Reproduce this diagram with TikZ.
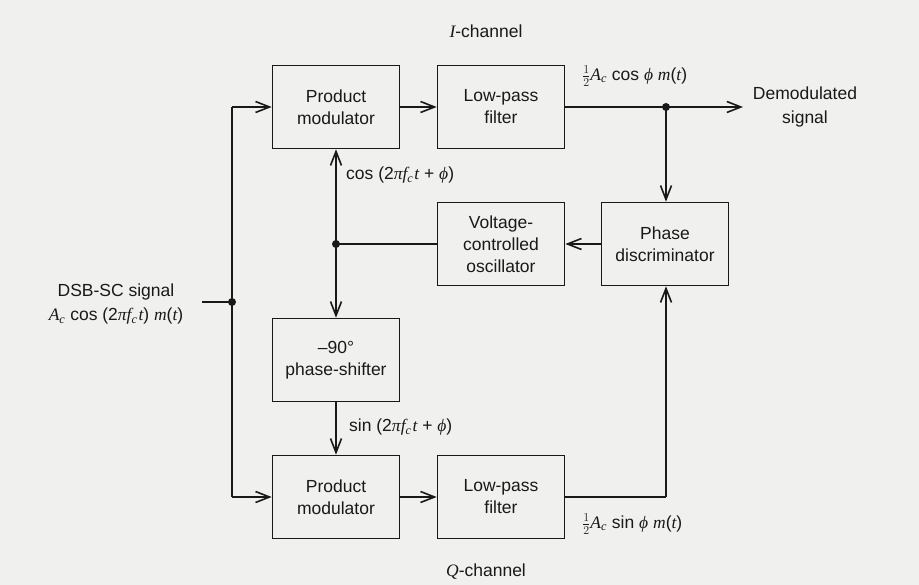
\documentclass[tikz,border=0pt]{standalone}
\usepackage{fontspec}
\setmainfont{Liberation Sans}
\newfontfamily\mf{Liberation Serif}
\newcommand{\mv}[1]{{\mf\itshape #1}}
\newcommand{\fc}{\mv{f}\textsubscript{\mv{c}}\kern1pt}
\newcommand{\Ac}{\mv{A}\textsubscript{\mv{c}}}
\newcommand{\half}{$\frac{1}{2}$}
\usetikzlibrary{arrows.meta}
\definecolor{paper}{RGB}{240,240,238}
\definecolor{ink}{RGB}{25,25,25}
\tikzset{
  blk/.style={draw=ink, line width=1.6pt, minimum width=127pt, minimum height=83pt,
    align=center, font=\fontsize{17.5}{22}\selectfont, text=ink, inner sep=0pt},
  wire/.style={draw=ink, line width=2.4pt},
  arr/.style={wire, -{Straight Barb[length=14pt,width=11pt,line width=1.6pt]}},
  lbl/.style={font=\fontsize{17.5}{24}\selectfont, text=ink, inner sep=0pt},
  dot/.style={circle, fill=ink, minimum size=8pt, inner sep=0pt}
}
\begin{document}
\begin{tikzpicture}[x=1pt,y=-1pt]
\fill[paper] (0,0) rectangle (919,585);
\useasboundingbox (0,0) rectangle (919,585);

% blocks
\node[blk] (pm1) at (336,107) {Product\\modulator};
\node[blk] (lpf1) at (501,107) {Low-pass\\filter};
\node[blk] (vco) at (501,244) {Voltage-\\controlled\\oscillator};
\node[blk] (pd) at (665,244) {Phase\\discriminator};
\node[blk] (ps) at (336,360) {--90\textdegree\\phase-shifter};
\node[blk] (pm2) at (336,497) {Product\\modulator};
\node[blk] (lpf2) at (501,497) {Low-pass\\filter};

% junctions and free ends
\node[dot] (jin) at (232,302) {};
\node[dot] (jout) at (666,107) {};
\node[dot] (jvco) at (336,244) {};
\coordinate (in) at (202,302);
\coordinate (out) at (743,107);
\coordinate (btop) at (232,107);
\coordinate (bbot) at (232,497);
\coordinate (qc) at (666,497);

% connectors
\draw[wire] (in) -- (jin.center);
\draw[wire] (btop) -- (bbot);
\draw[arr] (btop) -- (pm1.west);
\draw[arr] (bbot) -- (pm2.west);
\draw[arr] (pm1) -- (lpf1);
\draw[arr] (pm2) -- (lpf2);
\draw[wire] (lpf1.east) -- (jout.center);
\draw[arr] (jout.center) -- (out);
\draw[arr] (jout.center) -- (pd.north -| jout);
\draw[arr] (pd.west |- vco.east) -- (vco.east);
\draw[wire] (vco.west) -- (jvco.center);
\draw[arr] (jvco.center) -- (pm1.south);
\draw[arr] (jvco.center) -- (ps.north);
\draw[arr] (ps.south) -- (pm2.north);
\draw[wire] (lpf2.east) -- (qc);
\draw[arr] (qc) -- (pd.south -| qc);

% labels
\node[lbl] (ich) at (486,31) {\mv{I}-channel};
\node[lbl] (qch) at (486,572) {\mv{Q}-channel};
\node[lbl, anchor=west] (cosl) at (346,175) {cos (2\mv{π}\fc\mv{t} + \mv{ϕ})};
\node[lbl, anchor=west] (sinl) at (349,427) {sin (2\mv{π}\fc\mv{t} + \mv{ϕ})};
\node[lbl, anchor=west] (icl) at (582,76) {\half\Ac{} cos \mv{ϕ} \mv{m}(\mv{t})};
\node[lbl, anchor=west] (qcl) at (582,524) {\half\Ac{} sin \mv{ϕ} \mv{m}(\mv{t})};
\node[lbl, align=center] (dem) at (805,107) {Demodulated\\signal};
\node[lbl, align=center] (dsb) at (116,304) {DSB-SC signal\\\Ac{} cos (2\mv{π}\fc\mv{t}) \mv{m}(\mv{t})};
\end{tikzpicture}
\end{document}
